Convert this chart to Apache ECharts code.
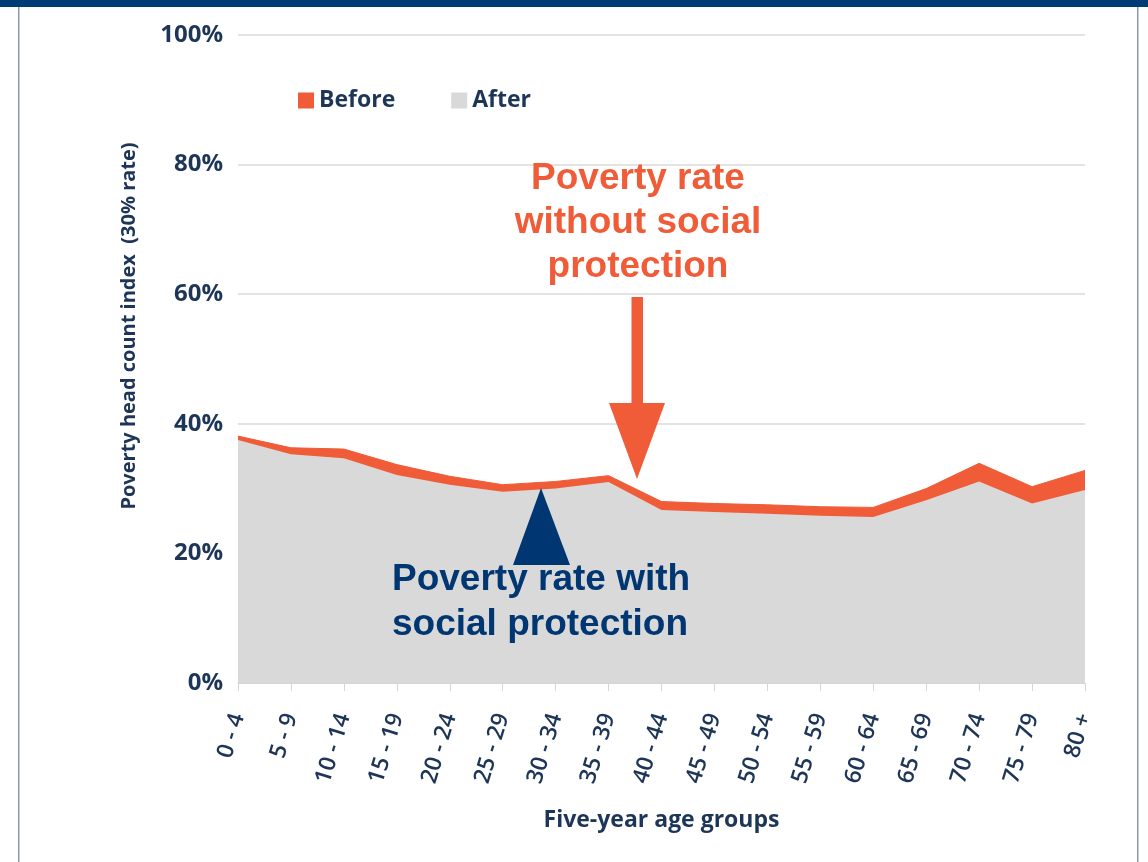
<!DOCTYPE html>
<html>
<head>
<meta charset="utf-8">
<script src="https://cdn.jsdelivr.net/npm/echarts@6/dist/echarts.min.js"></script>
<style>
  html, body { margin: 0; padding: 0; background: #fff; }
  #chart { width: 1148px; height: 862px; }
</style>
</head>
<body>
<div id="chart"></div>
<script>
// age groups (x axis)
const ageGroups = ['0 - 4', '5 - 9', '10 - 14', '15 - 19', '20 - 24', '25 - 29', '30 - 34', '35 - 39',
    '40 - 44', '45 - 49', '50 - 54', '55 - 59', '60 - 64', '65 - 69', '70 - 74', '75 - 79', '80 +']
// poverty rate before social protection (%)
const before = [38.1, 36.3, 36.1, 33.7, 31.9, 30.6, 31.1, 32.0, 28.0, 27.7, 27.5, 27.2, 27.1, 30.0, 33.9, 30.3, 32.8]
// poverty rate after social protection (%)
const after = [37.5, 35.3, 34.7, 32.1, 30.6, 29.5, 30.0, 31.0, 26.7, 26.4, 26.1, 25.8, 25.6, 28.2, 31.1, 27.7, 29.8]

const orange = '#f05b38'
const grey = '#d9d9d9'
const navy = '#1d3557'
const darkBlue = '#003671'

const chart = echarts.init(document.getElementById('chart'))

const option = {
    backgroundColor: '#ffffff',
    animation: false,
    textStyle: { fontFamily: 'Open Sans' },
    grid: { left: 238, right: 63, top: 35, bottom: 179 },
    legend: {
        left: 293,
        top: 84,
        icon: 'rect',
        itemWidth: 16,
        itemHeight: 16,
        itemGap: 56,
        data: ['Before', 'After'],
        textStyle: { color: navy, fontSize: 23, fontWeight: 'bold', fontFamily: 'Open Sans', padding: [0, 0, 0, 0] }
    },
    xAxis: {
        type: 'category',
        boundaryGap: false,
        data: ageGroups,
        name: 'Five-year age groups',
        nameLocation: 'middle',
        nameGap: 126,
        nameTextStyle: { color: navy, fontSize: 23, fontWeight: 'bold' },
        axisLine: { lineStyle: { color: '#d6d6d6', width: 1 } },
        axisTick: { length: 8, lineStyle: { color: '#d6d6d6' } },
        axisLabel: { rotate: 73, margin: 31, color: navy, fontSize: 23, fontWeight: 600 }
    },
    yAxis: {
        type: 'value',
        min: 0,
        max: 100,
        interval: 20,
        name: 'Poverty head count index  (30% rate)',
        nameLocation: 'middle',
        nameGap: 99,
        nameTextStyle: { color: navy, fontSize: 20, fontWeight: 'bold', padding: [0, 0, 0, 66] },
        axisLine: { show: false },
        axisTick: { show: false },
        axisLabel: { formatter: '{value}%', margin: 15, color: navy, fontSize: 24, fontWeight: 'bold' },
        splitLine: { lineStyle: { color: '#e3e3e3', width: 2 } }
    },
    series: [
        {
            name: 'Before',
            type: 'line',
            data: before,
            symbol: 'none',
            itemStyle: { color: orange },
            lineStyle: { color: orange, width: 1 },
            areaStyle: { color: orange, opacity: 1 },
            z: 2
        },
        {
            name: 'After',
            type: 'line',
            data: after,
            symbol: 'none',
            itemStyle: { color: grey },
            lineStyle: { width: 0 },
            areaStyle: { color: grey, opacity: 1 },
            z: 3
        }
    ],
    // frame and annotations
    graphic: [
        { type: 'rect', shape: { x: 0, y: 0, width: 1148, height: 7 }, style: { fill: '#003b76' }, z: 100 },
        { type: 'rect', shape: { x: 18, y: 7, width: 1.5, height: 855 }, style: { fill: '#8a9ab0' }, z: 100 },
        { type: 'rect', shape: { x: 1137, y: 7, width: 1.5, height: 855 }, style: { fill: '#8a9ab0' }, z: 100 },

        { type: 'text', x: 638, y: 179, style: { text: 'Poverty rate', fill: orange, font: 'bold 37px "Liberation Sans"', align: 'center', verticalAlign: 'middle' }, z: 100 },
        { type: 'text', x: 638, y: 223, style: { text: 'without social', fill: orange, font: 'bold 37px "Liberation Sans"', align: 'center', verticalAlign: 'middle' }, z: 100 },
        { type: 'text', x: 638, y: 267, style: { text: 'protection', fill: orange, font: 'bold 37px "Liberation Sans"', align: 'center', verticalAlign: 'middle' }, z: 100 },
        { type: 'rect', shape: { x: 631.5, y: 297, width: 11.5, height: 107 }, style: { fill: orange }, z: 100 },
        { type: 'polygon', shape: { points: [[609, 403], [665, 403], [637, 479]] }, style: { fill: orange }, z: 100 },

        { type: 'polygon', shape: { points: [[541, 488], [513, 565], [570, 565]] }, style: { fill: darkBlue }, z: 100 },
        { type: 'text', x: 392, y: 580, style: { text: 'Poverty rate with', fill: darkBlue, font: 'bold 37px "Liberation Sans"', align: 'left', verticalAlign: 'middle' }, z: 100 },
        { type: 'text', x: 392, y: 625, style: { text: 'social protection', fill: darkBlue, font: 'bold 37px "Liberation Sans"', align: 'left', verticalAlign: 'middle' }, z: 100 }
    ]
}

chart.setOption(option)

window.addEventListener('resize', () => {
    chart.resize()
})
</script>
</body>
</html>
